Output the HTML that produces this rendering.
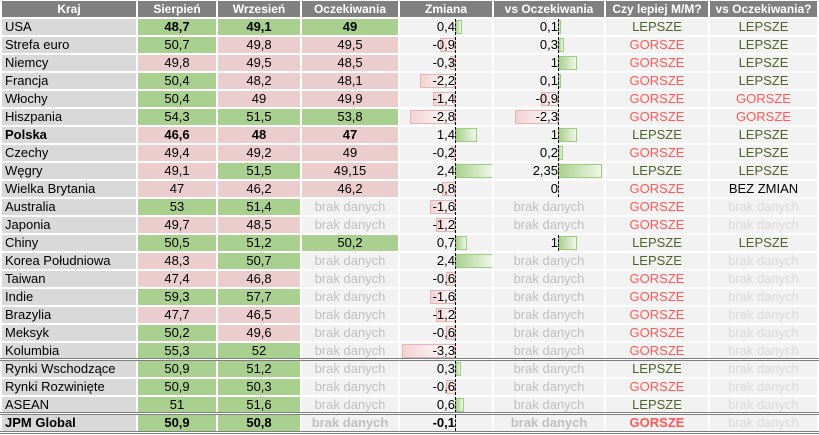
<!DOCTYPE html><html><head><meta charset="utf-8"><style>
body{margin:0;width:819px;height:435px;background:#fff;overflow:hidden;font-family:"Liberation Sans",Arial,sans-serif;font-size:13px;position:relative}
table{border-collapse:separate;border-spacing:2px;position:absolute;left:0;top:-1px;table-layout:fixed}
td{height:16px;padding:0;text-align:center;background:#f2f2f2;color:#000;line-height:16px;white-space:nowrap;position:relative;overflow:hidden}
th{height:16px;padding:0;background:#808080;color:#fff;font-weight:bold;line-height:16px;font-size:12px}
td.k{background:#d9d9d9;text-align:left;padding-left:3px}
.g{background:#a9d08e}.p{background:#ebcdcd}
.b td{font-weight:bold}
.n{color:#bfbfbf}
.L{color:#4f6228}.R{color:#ff5a5a}
.z,.v{text-align:left}
.t{position:absolute;top:0}
.z .t{right:37px}.v .t{right:46px}
.ax{position:absolute;top:0;bottom:0;border-left:1px dashed #000}
.z .ax{left:55px}.v .ax{left:64px}
.bp{position:absolute;top:1px;height:12px;border:1px solid #e5b5b5;background:linear-gradient(to right,#f3d3d3,#fff)}
.bg{position:absolute;top:1px;height:12px;border:1px solid #9ccc7c;background:linear-gradient(to right,#a9d08e,#eef7e8)}
.sep{position:absolute;left:0;width:819px;height:0;border-top:3px double #808080}
</style></head><body>
<table>
<colgroup><col style="width:134px"><col style="width:78px"><col style="width:82px"><col style="width:96px"><col style="width:92px"><col style="width:110px"><col style="width:102px"><col style="width:107px"></colgroup>
<tr><th>Kraj</th><th>Sierpień</th><th>Wrzesień</th><th>Oczekiwania</th><th>Zmiana</th><th>vs Oczekiwania</th><th>Czy lepiej M/M?</th><th>vs Oczekiwania?</th></tr>
<tr class="b"><td class="k" style="font-weight:normal">USA</td><td class="g">48,7</td><td class="g">49,1</td><td class="g">49</td><td class="z"><div class="bg" style="left:55px;width:5px"></div><div class="ax"></div><span class="t" style="font-weight:normal">0,4</span></td><td class="v"><div class="bg" style="left:64px;width:1px"></div><div class="ax"></div><span class="t" style="font-weight:normal">0,1</span></td><td class="L" style="font-weight:normal">LEPSZE</td><td class="L" style="font-weight:normal">LEPSZE</td></tr>
<tr><td class="k">Strefa euro</td><td class="g">50,7</td><td class="p">49,8</td><td class="p">49,5</td><td class="z"><div class="bp" style="left:40px;width:13px"></div><div class="ax"></div><span class="t">-0,9</span></td><td class="v"><div class="bg" style="left:64px;width:4px"></div><div class="ax"></div><span class="t">0,3</span></td><td class="R">GORSZE</td><td class="L">LEPSZE</td></tr>
<tr><td class="k">Niemcy</td><td class="p">49,8</td><td class="p">49,5</td><td class="p">48,5</td><td class="z"><div class="bp" style="left:50px;width:3px"></div><div class="ax"></div><span class="t">-0,3</span></td><td class="v"><div class="bg" style="left:64px;width:17px"></div><div class="ax"></div><span class="t">1</span></td><td class="R">GORSZE</td><td class="L">LEPSZE</td></tr>
<tr><td class="k">Francja</td><td class="g">50,4</td><td class="p">48,2</td><td class="p">48,1</td><td class="z"><div class="bp" style="left:20px;width:33px"></div><div class="ax"></div><span class="t">-2,2</span></td><td class="v"><div class="bg" style="left:64px;width:1px"></div><div class="ax"></div><span class="t">0,1</span></td><td class="R">GORSZE</td><td class="L">LEPSZE</td></tr>
<tr><td class="k">Włochy</td><td class="g">50,4</td><td class="p">49</td><td class="p">49,9</td><td class="z"><div class="bp" style="left:33px;width:20px"></div><div class="ax"></div><span class="t">-1,4</span></td><td class="v"><div class="bp" style="left:47px;width:15px"></div><div class="ax"></div><span class="t">-0,9</span></td><td class="R">GORSZE</td><td class="R">GORSZE</td></tr>
<tr><td class="k">Hiszpania</td><td class="g">54,3</td><td class="g">51,5</td><td class="g">53,8</td><td class="z"><div class="bp" style="left:10px;width:43px"></div><div class="ax"></div><span class="t">-2,8</span></td><td class="v"><div class="bp" style="left:21px;width:41px"></div><div class="ax"></div><span class="t">-2,3</span></td><td class="R">GORSZE</td><td class="R">GORSZE</td></tr>
<tr class="b"><td class="k">Polska</td><td class="p">46,6</td><td class="p">48</td><td class="p">47</td><td class="z"><div class="bg" style="left:55px;width:20px"></div><div class="ax"></div><span class="t" style="font-weight:normal">1,4</span></td><td class="v"><div class="bg" style="left:64px;width:17px"></div><div class="ax"></div><span class="t" style="font-weight:normal">1</span></td><td class="L" style="font-weight:normal">LEPSZE</td><td class="L" style="font-weight:normal">LEPSZE</td></tr>
<tr><td class="k">Czechy</td><td class="p">49,4</td><td class="p">49,2</td><td class="p">49</td><td class="z"><div class="bp" style="left:51px;width:2px"></div><div class="ax"></div><span class="t">-0,2</span></td><td class="v"><div class="bg" style="left:64px;width:3px"></div><div class="ax"></div><span class="t">0,2</span></td><td class="R">GORSZE</td><td class="L">LEPSZE</td></tr>
<tr><td class="k">Węgry</td><td class="p">49,1</td><td class="g">51,5</td><td class="p">49,15</td><td class="z"><div class="bg" style="left:55px;width:36px"></div><div class="ax"></div><span class="t">2,4</span></td><td class="v"><div class="bg" style="left:64px;width:42px"></div><div class="ax"></div><span class="t">2,35</span></td><td class="L">LEPSZE</td><td class="L">LEPSZE</td></tr>
<tr><td class="k">Wielka Brytania</td><td class="p">47</td><td class="p">46,2</td><td class="p">46,2</td><td class="z"><div class="bp" style="left:42px;width:11px"></div><div class="ax"></div><span class="t">-0,8</span></td><td class="v"><div class="ax"></div><span class="t">0</span></td><td class="R">GORSZE</td><td>BEZ ZMIAN</td></tr>
<tr><td class="k">Australia</td><td class="g">53</td><td class="g">51,4</td><td class="n">brak danych</td><td class="z"><div class="bp" style="left:30px;width:23px"></div><div class="ax"></div><span class="t">-1,6</span></td><td class="n">brak danych</td><td class="R">GORSZE</td><td class="n" style="color:#d9d9d9">brak danych</td></tr>
<tr><td class="k">Japonia</td><td class="p">49,7</td><td class="p">48,5</td><td class="n">brak danych</td><td class="z"><div class="bp" style="left:36px;width:17px"></div><div class="ax"></div><span class="t">-1,2</span></td><td class="n">brak danych</td><td class="R">GORSZE</td><td class="n" style="color:#d9d9d9">brak danych</td></tr>
<tr><td class="k">Chiny</td><td class="g">50,5</td><td class="g">51,2</td><td class="g">50,2</td><td class="z"><div class="bg" style="left:55px;width:10px"></div><div class="ax"></div><span class="t">0,7</span></td><td class="v"><div class="bg" style="left:64px;width:17px"></div><div class="ax"></div><span class="t">1</span></td><td class="L">LEPSZE</td><td class="L">LEPSZE</td></tr>
<tr><td class="k">Korea Południowa</td><td class="p">48,3</td><td class="g">50,7</td><td class="n">brak danych</td><td class="z"><div class="bg" style="left:55px;width:36px"></div><div class="ax"></div><span class="t">2,4</span></td><td class="n">brak danych</td><td class="L">LEPSZE</td><td class="n" style="color:#d9d9d9">brak danych</td></tr>
<tr><td class="k">Taiwan</td><td class="p">47,4</td><td class="p">46,8</td><td class="n">brak danych</td><td class="z"><div class="bp" style="left:46px;width:7px"></div><div class="ax"></div><span class="t">-0,6</span></td><td class="n">brak danych</td><td class="R">GORSZE</td><td class="n" style="color:#d9d9d9">brak danych</td></tr>
<tr><td class="k">Indie</td><td class="g">59,3</td><td class="g">57,7</td><td class="n">brak danych</td><td class="z"><div class="bp" style="left:30px;width:23px"></div><div class="ax"></div><span class="t">-1,6</span></td><td class="n">brak danych</td><td class="R">GORSZE</td><td class="n" style="color:#d9d9d9">brak danych</td></tr>
<tr><td class="k">Brazylia</td><td class="p">47,7</td><td class="p">46,5</td><td class="n">brak danych</td><td class="z"><div class="bp" style="left:36px;width:17px"></div><div class="ax"></div><span class="t">-1,2</span></td><td class="n">brak danych</td><td class="R">GORSZE</td><td class="n" style="color:#d9d9d9">brak danych</td></tr>
<tr><td class="k">Meksyk</td><td class="g">50,2</td><td class="p">49,6</td><td class="n">brak danych</td><td class="z"><div class="bp" style="left:46px;width:7px"></div><div class="ax"></div><span class="t">-0,6</span></td><td class="n">brak danych</td><td class="R">GORSZE</td><td class="n" style="color:#d9d9d9">brak danych</td></tr>
<tr><td class="k">Kolumbia</td><td class="g">55,3</td><td class="g">52</td><td class="n">brak danych</td><td class="z"><div class="bp" style="left:2px;width:51px"></div><div class="ax"></div><span class="t">-3,3</span></td><td class="n">brak danych</td><td class="R">GORSZE</td><td class="n" style="color:#d9d9d9">brak danych</td></tr>
<tr><td class="k">Rynki Wschodzące</td><td class="g">50,9</td><td class="g">51,2</td><td class="n">brak danych</td><td class="z"><div class="bg" style="left:55px;width:4px"></div><div class="ax"></div><span class="t">0,3</span></td><td class="n">brak danych</td><td class="L">LEPSZE</td><td class="n" style="color:#d9d9d9">brak danych</td></tr>
<tr><td class="k">Rynki Rozwinięte</td><td class="g">50,9</td><td class="g">50,3</td><td class="n">brak danych</td><td class="z"><div class="bp" style="left:46px;width:7px"></div><div class="ax"></div><span class="t">-0,6</span></td><td class="n">brak danych</td><td class="R">GORSZE</td><td class="n" style="color:#d9d9d9">brak danych</td></tr>
<tr><td class="k">ASEAN</td><td class="g">51</td><td class="g">51,6</td><td class="n">brak danych</td><td class="z"><div class="bg" style="left:55px;width:7px"></div><div class="ax"></div><span class="t">0,6</span></td><td class="n">brak danych</td><td class="L">LEPSZE</td><td class="n" style="color:#d9d9d9">brak danych</td></tr>
<tr class="b"><td class="k">JPM Global</td><td class="g">50,9</td><td class="g">50,8</td><td class="n">brak danych</td><td class="z"><div class="ax"></div><span class="t">-0,1</span></td><td class="n">brak danych</td><td class="R">GORSZE</td><td class="n" style="color:#d9d9d9;font-weight:normal">brak danych</td></tr>
</table>
<div class="sep" style="top:358px"></div>
<div class="sep" style="top:412px"></div>
<div class="sep" style="top:431px"></div>
</body></html>
